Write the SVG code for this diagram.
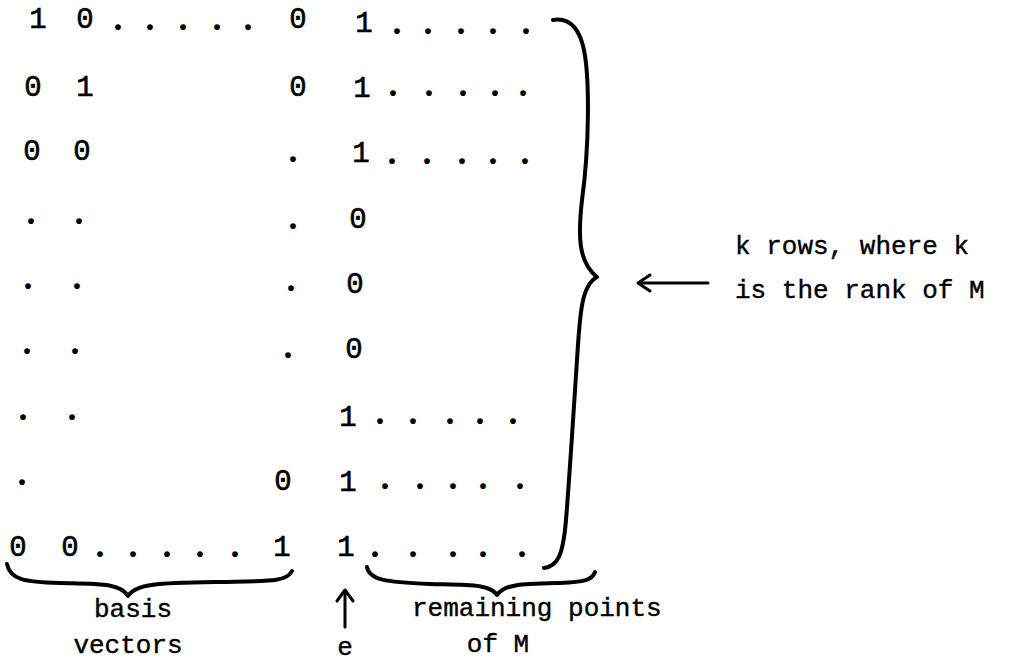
<svg xmlns="http://www.w3.org/2000/svg" width="1009" height="662" viewBox="0 0 1009 662">
<style>
.d{font-family:"Liberation Mono","Courier New",monospace;font-size:29px;fill:#000;stroke:#000;stroke-width:0.6;text-anchor:middle}
.p{font-family:"Liberation Serif","Times New Roman",serif;font-size:36px;font-weight:bold;fill:#000;text-anchor:middle}
.t{font-family:"Liberation Mono","Courier New",monospace;font-size:26px;fill:#000;stroke:#000;stroke-width:0.4}
.c{text-anchor:middle}
.br{fill:none;stroke:#000;stroke-width:4;stroke-linecap:round;stroke-linejoin:round}
.ar{fill:none;stroke:#000;stroke-width:3;stroke-linecap:round;stroke-linejoin:round}
</style>
<rect width="1009" height="662" fill="#fff"/>
<g id="matrix">
<g id="row1">
<text class="d" x="38" y="28">1</text><text class="d" x="85" y="28">0</text>
<text class="p" x="118 150 183 217 248" y="30">.....</text>
<text class="d" x="298" y="28">0</text><text class="d" x="364" y="32">1</text>
<text class="p" x="397 428 461 493 526" y="34">.....</text>
</g>
<g id="row2">
<text class="d" x="33" y="96">0</text><text class="d" x="85" y="96">1</text>
<text class="d" x="298" y="96">0</text><text class="d" x="362" y="97">1</text>
<text class="p" x="393 429 463 495 523" y="96">.....</text>
</g>
<g id="row3">
<text class="d" x="32" y="160">0</text><text class="d" x="82" y="160">0</text>
<text class="p" x="293" y="162">.</text>
<text class="d" x="361" y="162">1</text>
<text class="p" x="392 427 462 493 525" y="164">.....</text>
</g>
<g id="row4">
<text class="p" x="31 79" y="224">..</text>
<text class="p" x="293" y="229">.</text>
<text class="d" x="358" y="228">0</text>
</g>
<g id="row5">
<text class="p" x="28 77" y="289">..</text>
<text class="p" x="291" y="291">.</text>
<text class="d" x="355" y="293">0</text>
</g>
<g id="row6">
<text class="p" x="27 75" y="354">..</text>
<text class="p" x="288" y="358">.</text>
<text class="d" x="354" y="358">0</text>
</g>
<g id="row7">
<text class="p" x="23 72" y="420">..</text>
<text class="d" x="348" y="426">1</text>
<text class="p" x="380 413 450 480 513" y="424">.....</text>
</g>
<g id="row8">
<text class="p" x="22" y="485">.</text>
<text class="d" x="283" y="490">0</text>
<text class="d" x="348" y="491">1</text>
<text class="p" x="385 420 453 483 520" y="489">.....</text>
</g>
<g id="row9">
<text class="d" x="18" y="556">0</text><text class="d" x="70" y="556">0</text>
<text class="p" x="100 133 167 200 235" y="557">.....</text>
<text class="d" x="282" y="556">1</text><text class="d" x="346" y="556">1</text>
<text class="p" x="375 413 453 483 522" y="557">.....</text>
</g>
</g>
<g id="braces">
<path id="rows-brace" class="br" d="M 553 20 C 565 18, 578 22, 584 50 C 590 80, 589 150, 582 200 C 578 235, 578 262, 597 277 C 582 285, 580 310, 577 360 C 573 420, 570 470, 566 520 C 563 555, 558 566, 544 568"/>
<path id="basis-brace" class="br" d="M 7 564 C 10 580, 25 582, 60 583 C 100 584, 120 583, 128 596 C 136 583, 160 583, 220 582 C 270 581, 287 582, 292 571"/>
<path id="remaining-brace" class="br" d="M 367 567 C 369 580, 385 582, 430 584 C 470 585, 490 584, 497 595 C 505 584, 520 584, 560 583 C 585 582, 592 580, 595 572"/>
</g>
<g id="connectors">
<g id="arrow-e"><path class="ar" d="M 345 627 L 345 592"/><path class="ar" d="M 337 601 L 345 590 L 353 601"/></g>
<g id="arrow-k"><path class="ar" d="M 640 283 L 708 283" stroke-width="2.5"/><path class="ar" d="M 650 275 L 638 283 L 650 291"/></g>
</g>
<g id="labels">
<g id="label-basis"><text class="t c" x="133" y="617">basis</text><text class="t c" x="128" y="653">vectors</text></g>
<g id="label-e"><text class="t c" x="345" y="655">e</text></g>
<g id="label-remaining"><text class="t" x="412" y="616">remaining points</text><text class="t c" x="498" y="652">of M</text></g>
<g id="label-k"><text class="t" x="735" y="254">k rows, where k</text><text class="t" x="735" y="298">is the rank of M</text></g>
</g>
</svg>
